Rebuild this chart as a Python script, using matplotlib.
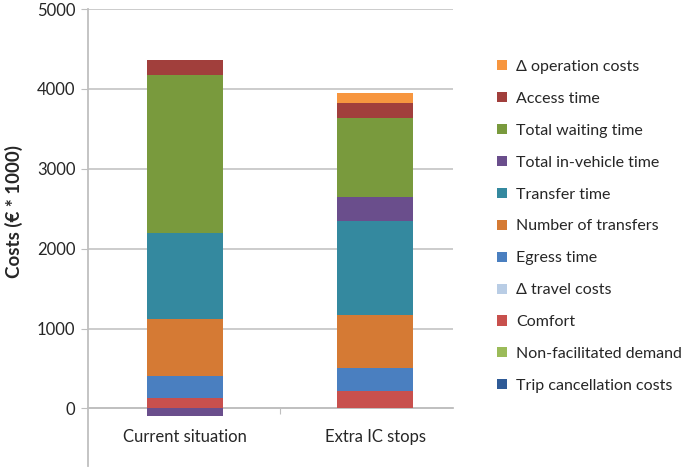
import matplotlib
matplotlib.use('Agg')
import matplotlib.pyplot as plt
from matplotlib.patches import Patch

# categories and cost components (x 1000 euro), stacking order bottom -> top
scenarios = ['Current situation', 'Extra IC stops']
components = ['Trip cancellation costs', 'Non-facilitated demand', 'Comfort',
              '\u0394 travel costs', 'Egress time', 'Number of transfers',
              'Transfer time', 'Total in-vehicle time', 'Total waiting time',
              'Access time', '\u0394 operation costs']
trip_cancel = [0, 0]
non_facilitated = [0, 0]
comfort = [133, 216]
travel_costs = [0, 0]
egress = [271, 284]
n_transfers = [721, 666]
transfer_time = [1070, 1175]
in_vehicle = [-96, 304]
waiting = [1984, 988]
access = [184, 187]
operation = [0, 125]

colors = ['#2F5B97', '#9BBB59', '#C8504D', '#B9CDE5', '#4A7FC0', '#D57A34',
          '#34899F', '#6A4E8C', '#799A3D', '#A13F3C', '#F7963F']

series = [trip_cancel, non_facilitated, comfort, travel_costs, egress,
          n_transfers, transfer_time, in_vehicle, waiting, access, operation]

plt.rcParams['font.family'] = ['Lato', 'DejaVu Sans']

fig = plt.figure(figsize=(6.85, 4.7), dpi=100)
ax = fig.add_axes([88 / 685, 1 - 466 / 470, (453 - 88) / 685, (466 - 9) / 470])

x = list(range(len(scenarios)))
pos_base = [0.0] * len(x)
neg_base = [0.0] * len(x)
for vals, col in zip(series, colors):
    bottoms = []
    for i, v in enumerate(vals):
        if v >= 0:
            bottoms.append(pos_base[i])
            pos_base[i] += v
        else:
            bottoms.append(neg_base[i])
            neg_base[i] += v
    ax.bar(x, vals, bottom=bottoms, width=0.4, color=col, zorder=3)

ax.set_xlim(-0.51, 1.41)
ax.set_ylim(-721, 5000)
ax.set_yticks(range(0, 5001, 1000))
ax.tick_params(axis='y', length=5, color='#BFBFBF', labelsize=12, pad=4,
               labelcolor='#262626')
ax.yaxis.grid(True, color='#C8C8C8', linewidth=1.3, zorder=0)

for s in ['top', 'right']:
    ax.spines[s].set_visible(False)
ax.spines['left'].set_color('#BFBFBF')
ax.spines['left'].set_linewidth(1.3)
ax.spines['bottom'].set_position(('data', 0))
ax.spines['bottom'].set_color('#BFBFBF')
ax.spines['bottom'].set_linewidth(1.3)

ax.set_xticks([0.5])
ax.set_xticklabels([''])
ax.tick_params(axis='x', length=4, color='#BFBFBF')
for xi, name in zip(x, scenarios):
    ax.text(xi, -360, name, ha='center', va='center', fontsize=12,
            color='#262626')

fig.text(14 / 685, 1 - 212 / 470, 'Costs (\u20ac * 1000)', rotation=90,
         ha='center', va='center', fontsize=13.5, fontweight='bold',
         color='#262626')

handles = [Patch(facecolor=c) for c in colors][::-1]
labels = components[::-1]
fig.legend(handles, labels, loc='upper left',
           bbox_to_anchor=(489 / 685, 1 - 52 / 470), frameon=False,
           fontsize=11.5, handlelength=0.6, handleheight=0.6,
           handletextpad=0.6, labelspacing=1.12, borderpad=0,
           labelcolor='#262626')

fig.savefig('out.png', dpi=100)
